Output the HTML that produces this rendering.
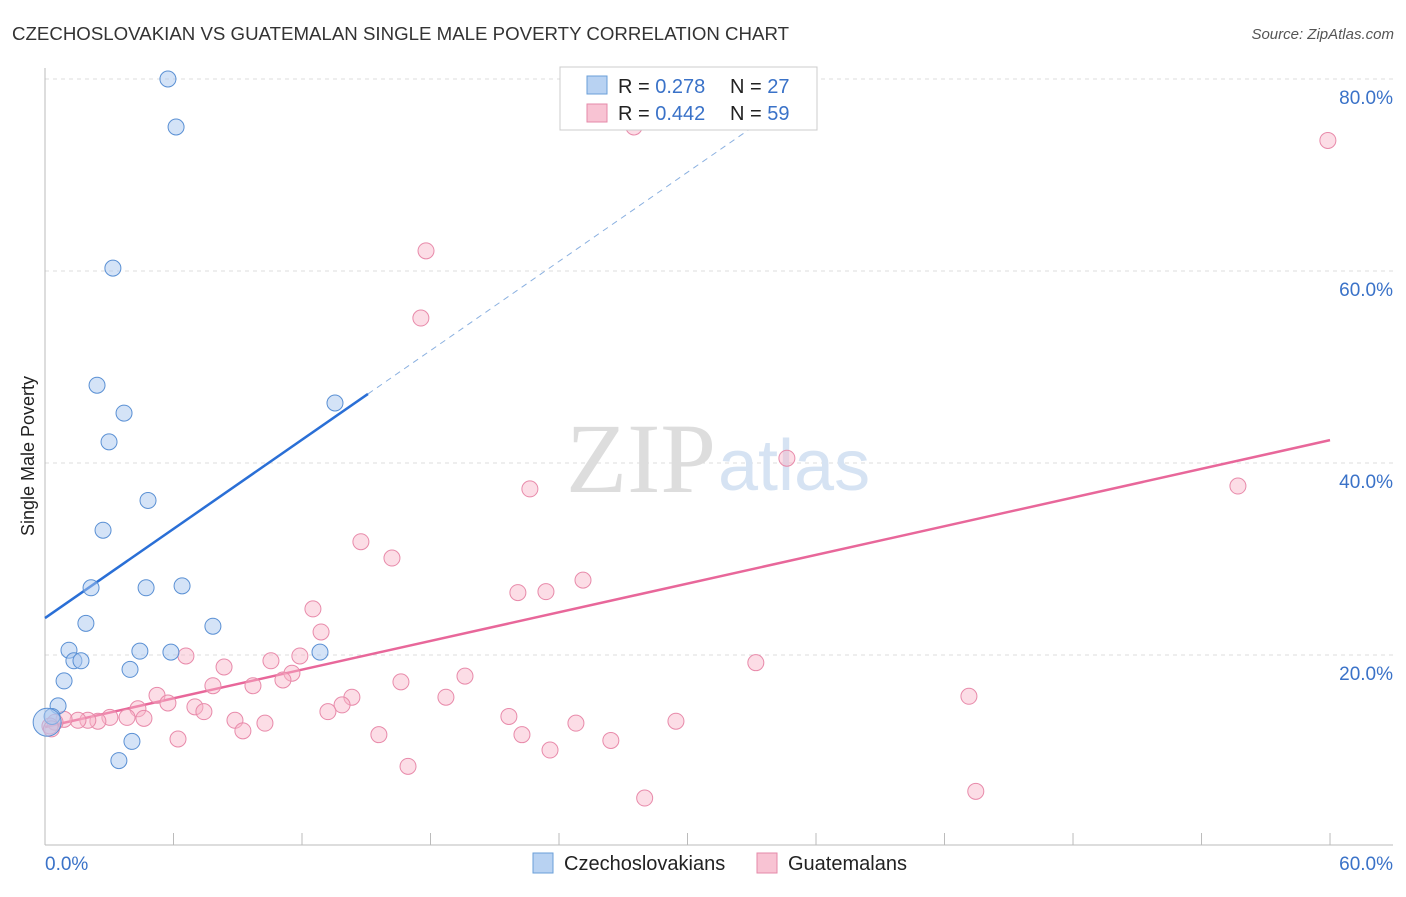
<!DOCTYPE html>
<html><head><meta charset="utf-8"><style>
body{margin:0;background:#fff;font-family:"Liberation Sans",sans-serif;}
svg text{font-family:"Liberation Sans",sans-serif;}
</style></head><body>
<svg id="chart" width="1406" height="892">
<text x="12" y="40" font-size="18" fill="#333" textLength="777" lengthAdjust="spacingAndGlyphs">CZECHOSLOVAKIAN VS GUATEMALAN SINGLE MALE POVERTY CORRELATION CHART</text>
<text x="1394" y="39" font-size="15" fill="#555" text-anchor="end" font-style="italic">Source: ZipAtlas.com</text>
<text x="34" y="456" font-size="18" fill="#222" text-anchor="middle" transform="rotate(-90 34 456)">Single Male Poverty</text>
<g id="grid"></g><g id="ticks"></g>
<text x="716" y="492" font-size="100" fill="#ddd" text-anchor="end" style="font-family:'Liberation Serif',serif">ZIP</text>
<text x="718" y="490" font-size="72" fill="#d6e3f3">atlas</text>
<g id="lines"></g><g id="pts"></g>
<g>
<rect x="560" y="67" width="257" height="63" fill="#fff" stroke="#ccc"/>
<rect x="587" y="76" width="20" height="18" fill="#b8d2f2" stroke="#6a9fd8"/>
<rect x="587" y="104" width="20" height="18" fill="#f8c3d3" stroke="#e58aa8"/>
<text x="618" y="93" font-size="20" fill="#222">R = <tspan fill="#3a72c8">0.278</tspan></text>
<text x="730" y="93" font-size="20" fill="#222">N = <tspan fill="#3a72c8">27</tspan></text>
<text x="618" y="120" font-size="20" fill="#222">R = <tspan fill="#3a72c8">0.442</tspan></text>
<text x="730" y="120" font-size="20" fill="#222">N = <tspan fill="#3a72c8">59</tspan></text>
</g>
<g>
<rect x="533" y="853" width="20" height="20" fill="#b8d2f2" stroke="#6a9fd8"/>
<text x="564" y="870" font-size="20" fill="#222">Czechoslovakians</text>
<rect x="757" y="853" width="20" height="20" fill="#f8c3d3" stroke="#e58aa8"/>
<text x="788" y="870" font-size="20" fill="#222">Guatemalans</text>
</g>
</svg>
<script>
const yTicks=[20,40,60,80];
const xTickLabels=["0.0%","60.0%"];
const blueX=[5.74,6.12,3.17,2.43,3.69,2.99,13.54,4.81,2.71,2.15,4.72,6.40,1.91,7.84,1.12,4.43,5.88,12.84,1.35,1.68,3.97,0.89,0.61,0.33,0.1,4.06,3.45];
const blueY=[80.0,75.0,60.3,48.1,45.2,42.2,46.25,36.1,33.0,27.0,27.0,27.2,23.3,23.0,20.5,20.4,20.3,20.3,19.4,19.4,18.5,17.3,14.7,13.6,13.0,11.0,9.0];
const pinkX=[27.5,59.9,17.79,17.55,34.64,55.7,22.64,14.75,16.2,25.12,22.08,23.39,12.51,12.89,6.58,11.9,10.55,33.19,8.36,11.53,19.61,11.11,16.62,7.84,9.71,5.23,14.33,18.72,43.14,5.74,13.87,7.0,4.34,7.42,13.21,21.66,8.87,3.03,3.83,4.62,10.27,24.79,29.46,2.47,2.0,1.54,0.89,0.47,0.23,9.24,15.59,22.27,6.21,26.42,23.58,16.95,43.46,28.0,0.3];
const pinkY=[75.0,73.6,62.1,55.1,40.5,37.6,37.3,31.8,30.1,27.8,26.5,26.6,24.8,22.4,19.9,19.9,19.4,19.2,18.75,18.1,17.8,17.4,17.2,16.8,16.8,15.8,15.6,15.6,15.7,15.0,14.8,14.6,14.4,14.1,14.1,13.6,13.2,13.5,13.5,13.4,12.9,12.9,13.1,13.1,13.2,13.2,13.3,13.0,12.6,12.1,11.7,11.7,11.25,11.1,10.1,8.4,5.8,5.1,12.3];
const blueFit=[23.85,1.548];
const pinkFit=[12.5,0.498];
const X=v=>45+v*21.417, Y=v=>847-v*9.6;
const NS="http://www.w3.org/2000/svg";
function mk(t,a,p){const e=document.createElementNS(NS,t);for(const k in a)e.setAttribute(k,a[k]);document.getElementById(p).appendChild(e);return e;}
for(const t of yTicks){
 const g=mk('line',{x1:45,x2:1393,y1:Y(t),y2:Y(t),stroke:'#ddd','stroke-dasharray':'4,4'},'grid');
 
 
 const l=mk('text',{x:1393,y:Y(t)+25,'font-size':19,fill:'#3a72c8','text-anchor':'end'},'grid');l.textContent=t+'.0%';
 
 
}
const ax=mk('line',{x1:45,x2:45,y1:68,y2:845,stroke:'#bbb'},'ticks');


const bx=mk('line',{x1:45,x2:1393,y1:845,y2:845,stroke:'#bbb'},'ticks');


for(let i=0;i<=10;i++){const t=mk('line',{x1:X(i*6),x2:X(i*6),y1:833,y2:845,stroke:'#bbb'},'ticks');
 
 }
const l0=mk('text',{x:45,y:870,'font-size':19,fill:'#3a72c8'},'ticks');l0.textContent=xTickLabels[0];


const l1=mk('text',{x:1393,y:870,'font-size':19,fill:'#3a72c8','text-anchor':'end'},'ticks');l1.textContent=xTickLabels[1];


const f=(c,x)=>c[0]+c[1]*x;
const bl=mk('line',{x1:X(0),y1:Y(f(blueFit,0)),x2:X(15.08),y2:Y(f(blueFit,15.08)),stroke:'#2a6fd6','stroke-width':2.5},'lines');


const bd=mk('line',{x1:X(15.08),y1:Y(f(blueFit,15.08)),x2:X(35.7),y2:Y(f(blueFit,35.7)),stroke:'#8ab0e0','stroke-width':1,'stroke-dasharray':'6,5'},'lines');


const pl=mk('line',{x1:X(0),y1:Y(f(pinkFit,0)),x2:X(60),y2:Y(f(pinkFit,60)),stroke:'#e8679a','stroke-width':2.5},'lines');


pinkX.forEach((x,i)=>{const c=mk('circle',{cx:X(x),cy:Y(pinkY[i]),r:8,fill:'rgba(248,180,200,0.45)',stroke:'#e88aaa','stroke-width':1},'pts');
 
 });
blueX.forEach((x,i)=>{const c=mk('circle',{cx:X(x),cy:Y(blueY[i]),r:i==24?14:8,fill:'rgba(170,200,240,0.5)',stroke:'#5a90d4','stroke-width':1},'pts');
 
 });
</script>
</body></html>
